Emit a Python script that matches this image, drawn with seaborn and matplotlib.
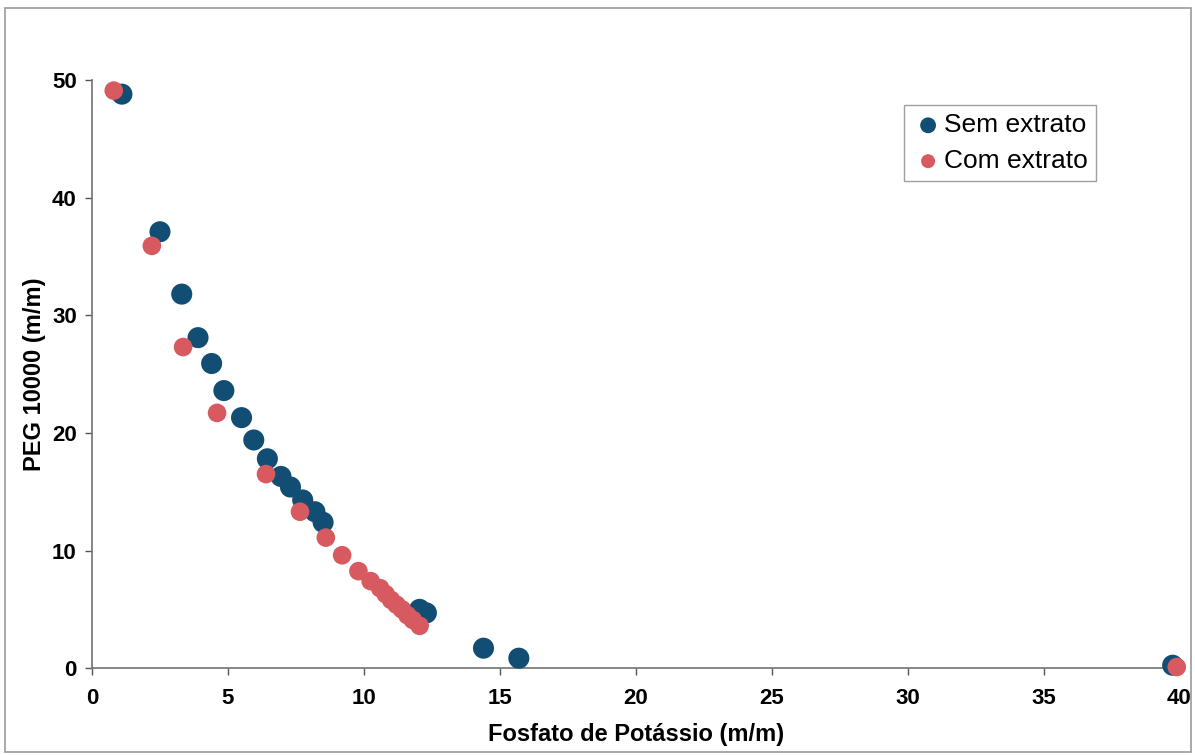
import pandas as pd
import matplotlib
import matplotlib.pyplot as plt
import seaborn as sns
from matplotlib.patches import Rectangle

matplotlib.use("Agg")

# Sem extrato
sem_x = [1.1, 2.5, 3.3, 3.9, 4.4, 4.85, 5.5, 5.95, 6.45, 6.95, 7.3, 7.75,
         8.2, 8.5, 12.05, 12.3, 14.4, 15.7, 39.75]
sem_y = [48.8, 37.1, 31.8, 28.1, 25.9, 23.6, 21.3, 19.4, 17.8, 16.3, 15.4, 14.3,
         13.3, 12.4, 5.0, 4.7, 1.7, 0.85, 0.25]

# Com extrato
com_x = [0.8, 2.2, 3.35, 4.6, 6.4, 7.65, 8.6, 9.2, 9.8, 10.25, 10.6, 10.8,
         11.0, 11.2, 11.4, 11.6, 11.8, 12.05, 39.9]
com_y = [49.1, 35.9, 27.3, 21.7, 16.5, 13.3, 11.1, 9.6, 8.25, 7.4, 6.8, 6.3,
         5.8, 5.4, 5.0, 4.5, 4.1, 3.6, 0.1]

df = pd.concat([
    pd.DataFrame({"x": sem_x, "y": sem_y, "serie": "Sem extrato"}),
    pd.DataFrame({"x": com_x, "y": com_y, "serie": "Com extrato"}),
])

sns.set_theme(style="white")
plt.rcParams["font.family"] = ["Liberation Sans", "DejaVu Sans"]
plt.rcParams["text.color"] = "black"
plt.rcParams["axes.labelcolor"] = "black"

fig = plt.figure(figsize=(11.95, 7.55), dpi=100)
ax = fig.add_axes([0.077, 0.115, 0.91, 0.779])

palette = {"Sem extrato": "#124d74", "Com extrato": "#d65a60"}
sizes = {"Sem extrato": 230, "Com extrato": 180}
for name, grp in df.groupby("serie", sort=False):
    sns.scatterplot(data=grp, x="x", y="y", color=palette[name], s=sizes[name],
                    edgecolor="none", label=name, ax=ax, clip_on=False, zorder=3)

ax.set_xlim(0, 40)
ax.set_ylim(0, 50)
ax.set_xticks(range(0, 41, 5))
ax.set_yticks(range(0, 51, 10))
ax.tick_params(axis="both", labelsize=16, length=5, width=1, colors="#555555",
               labelcolor="black", direction="out", bottom=True, left=True)
ax.tick_params(axis="x", pad=9)
ax.tick_params(axis="y", pad=6)
for lab in ax.get_xticklabels() + ax.get_yticklabels():
    lab.set_fontweight("bold")

ax.spines["top"].set_visible(False)
ax.spines["right"].set_visible(False)
ax.spines["left"].set_color("#777777")
ax.spines["bottom"].set_color("#777777")

ax.set_xlabel("Fosfato de Potássio (m/m)", fontsize=17, fontweight="bold", labelpad=10)
ax.set_ylabel("PEG 10000 (m/m)", fontsize=17, fontweight="bold", labelpad=4)

leg = ax.legend(loc="upper left", bbox_to_anchor=(0.747, 0.957), fontsize=19,
                frameon=True, fancybox=False, edgecolor="#888888", borderaxespad=0,
                handletextpad=0.0, borderpad=0.3, labelspacing=0.45, markerscale=0.75,
                handlelength=1.2, labelcolor="black")
leg.get_frame().set_linewidth(1)

fig.patches.append(Rectangle((0.004, 0.004), 0.993, 0.985, transform=fig.transFigure,
                             fill=False, edgecolor="#999999", linewidth=1.2))

plt.savefig("out.png", dpi=100)
plt.close()
